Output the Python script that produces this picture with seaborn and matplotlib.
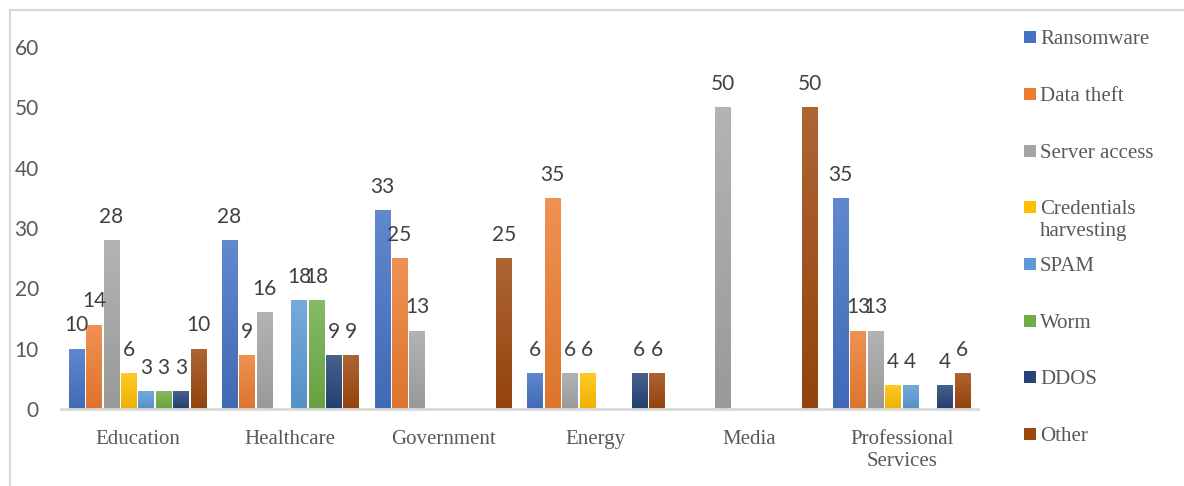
import numpy as np
import pandas as pd
import matplotlib
matplotlib.use("Agg")
import matplotlib.pyplot as plt
import matplotlib.colors as mcolors
from matplotlib.patches import Rectangle
from matplotlib.lines import Line2D
import seaborn as sns

# ---- data ----
sectors = ["Education", "Healthcare", "Government", "Energy", "Media", "Professional\nServices"]
attack_types = ["Ransomware", "Data theft", "Server access", "Credentials\nharvesting",
                "SPAM", "Worm", "DDOS", "Other"]
ransomware = [10, 28, 33, 6, 0, 35]
data_theft = [14, 9, 25, 35, 0, 13]
server_access = [28, 16, 13, 6, 50, 13]
credentials = [6, 0, 0, 6, 0, 4]
spam = [3, 18, 0, 0, 0, 4]
worm = [3, 18, 0, 0, 0, 0]
ddos = [3, 9, 0, 6, 0, 4]
other = [10, 9, 25, 6, 50, 6]
series = [ransomware, data_theft, server_access, credentials, spam, worm, ddos, other]
palette = ["#4472C4", "#ED7D31", "#A5A5A5", "#FFC000", "#5B9BD5", "#70AD47", "#264478", "#9E480E"]
yticks = [0, 10, 20, 30, 40, 50, 60]

rows = []
for t, vals in zip(attack_types, series):
    for s, v in zip(sectors, vals):
        rows.append({"Sector": s, "Type": t, "Value": v})
df = pd.DataFrame(rows)

sns.set_theme(style="white")
W, H = 1184, 486
fig = plt.figure(figsize=(W / 100, H / 100), dpi=100)
ax = fig.add_axes([61 / W, 1 - 409 / H, (978 - 61) / W, (409 - 47) / H])

sns.barplot(data=df, x="Sector", y="Value", hue="Type", order=sectors,
            hue_order=attack_types, palette=palette, width=0.91, gap=0.12,
            saturation=1, legend=False, ax=ax, linewidth=0, err_kws={"linewidth": 0})

ax.set_xlim(-0.5, len(sectors) - 0.5)
ax.set_ylim(0, 60)

# gradient fill on bars (lighter top, darker bottom)
def lighten(c, f):
    r, g, b = mcolors.to_rgb(c)
    return (r + (1 - r) * f, g + (1 - g) * f, b + (1 - b) * f)

def darken(c, f):
    r, g, b = mcolors.to_rgb(c)
    return (r * (1 - f), g * (1 - f), b * (1 - f))

for cont, col in zip(ax.containers, palette):
    for bar in cont:
        h = bar.get_height()
        if h <= 0:
            bar.set_visible(False)
            continue
        x0 = bar.get_x()
        w = bar.get_width()
        top = np.array(lighten(col, 0.16))
        bot = np.array(darken(col, 0.07))
        n = 64
        grad = np.linspace(0, 1, n)[:, None, None]
        img = top * (1 - grad) + bot * grad
        im = ax.imshow(img, extent=(x0, x0 + w, 0, h), origin="upper",
                       aspect="auto", zorder=bar.get_zorder() + 0.1, interpolation="bilinear")
        im.set_clip_path(bar)

ax.set_xlim(-0.5, len(sectors) - 0.5)
ax.set_ylim(0, 60)

# data labels
for cont in ax.containers:
    labels = [("%d" % b.get_height()) if b.get_height() > 0 else "" for b in cont]
    ax.bar_label(cont, labels=labels, padding=9.5, fontsize=15, color="#404040",
                 family="Lato")

# axes styling
for sp in ["top", "right", "left"]:
    ax.spines[sp].set_visible(False)
ax.spines["bottom"].set_color("#D9D9D9")
ax.spines["bottom"].set_linewidth(2)
ax.set_yticks(yticks)
ax.set_yticklabels([str(v) for v in yticks], family="Lato", fontsize=15, color="#595959")
ax.tick_params(axis="y", length=0, pad=16)
ax.set_xticks(range(len(sectors)))
ax.set_xticklabels(sectors, family="Liberation Serif", fontsize=15, color="#595959",
                   linespacing=1.2)
ax.tick_params(axis="x", which="major", length=0, pad=15)
ax.set_xticks(np.arange(-0.5, len(sectors), 1.0), minor=True)
ax.tick_params(axis="x", which="minor", length=6, width=2, color="#D9D9D9", direction="out")
ax.set_xlabel("")
ax.set_ylabel("")
ax.grid(False)

# outer chart border
fig.add_artist(Line2D([10 / W, 10 / W], [1 - 10 / H, 0], transform=fig.transFigure,
                      color="#D9D9D9", lw=1.5))
fig.add_artist(Line2D([10 / W, 1], [1 - 10 / H, 1 - 10 / H], transform=fig.transFigure,
                      color="#D9D9D9", lw=1.5))

# legend (manual, Excel-like spacing)
y0, step = 37.5, 56.6
for i, (lab, col) in enumerate(zip(attack_types, palette)):
    yc = y0 + i * step
    fig.add_artist(Rectangle((1024 / W, 1 - (yc + 6) / H), 12 / W, 12 / H,
                             transform=fig.transFigure, facecolor=col, edgecolor="none"))
    fig.text(1040 / W, 1 - (yc - 7) / H, lab, family="Liberation Serif", fontsize=15,
             color="#595959", va="top", ha="left", linespacing=1.2)

fig.savefig("out.png", dpi=100)
